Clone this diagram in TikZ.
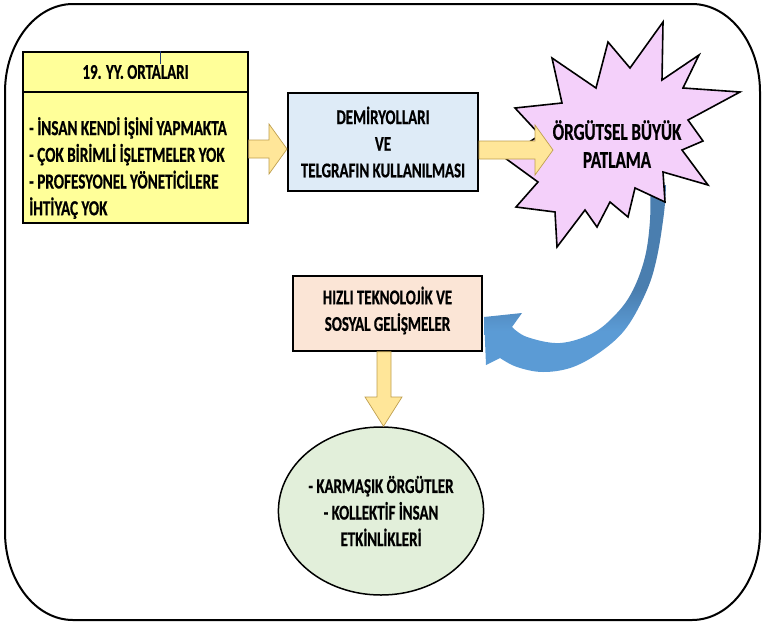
\documentclass[tikz,border=0pt]{standalone}
\usepackage{fontspec}
\setmainfont{Carlito}[FakeStretch=0.71, FakeBold=0.6]
\usetikzlibrary{calc,shapes.geometric}

\definecolor{boxyellow}{HTML}{FFFF99}
\definecolor{boxblue}{HTML}{DEEBF7}
\definecolor{burst}{HTML}{F4D0FA}
\definecolor{boxpink}{HTML}{FBE5D6}
\definecolor{boxgreen}{HTML}{E2EFDA}
\definecolor{arrowfill}{HTML}{FFE699}
\definecolor{arrowline}{HTML}{BF9F4F}
\definecolor{blueL}{HTML}{5B9BD5}
\definecolor{blueD}{HTML}{4A7EAF}
\definecolor{stray}{HTML}{1F3A7A}

% light lower part, darker upper part of the curved arrow
\pgfdeclareverticalshading{bluegrad}{100bp}{color(0bp)=(blueL); color(36bp)=(blueL); color(47bp)=(blueD); color(100bp)=(blueD)}

\begin{document}
\begin{tikzpicture}[x=1pt,y=-1pt,
  box/.style={draw=black, line width=1.5pt, rectangle, inner sep=0pt},
  lbl/.style={font=\bfseries\fontsize{21}{26.6}\selectfont, align=center, inner sep=0pt, text=black},
  blockarrow/.style={fill=arrowfill, draw=arrowline, line width=0.7pt, line join=miter},
]
\useasboundingbox (0,0) rectangle (762,624);

% outer frame with elliptical corners
\draw[line width=2pt] (73,4) -- (692,4)
  .. controls (729.5,4) and (760,43.4) .. (760,92) -- (760,532)
  .. controls (760,580.6) and (729.5,620) .. (692,620) -- (73,620)
  .. controls (35.5,620) and (5,580.6) .. (5,532) -- (5,92)
  .. controls (5,43.4) and (35.5,4) .. (73,4) -- cycle;

% first box
\node[box, fill=boxyellow, minimum width=225pt, minimum height=171pt] (yb) at (135.5,137.5) {};
\draw[line width=1.2pt] (yb.west |- 0,92) -- (yb.east |- 0,92);
\node[lbl] (ybt) at (135.5,72) {19. YY. ORTALARI};
\draw[stray, line width=0.7pt] (yb.north -| 160,0) -- (160,64);
\node[lbl, align=left, anchor=west, font=\bfseries\fontsize{21.4}{26.7}\selectfont] (ybl) at (29,168)
  {- İNSAN KENDİ İŞİNİ YAPMAKTA\\- ÇOK BİRİMLİ İŞLETMELER YOK\\- PROFESYONEL YÖNETİCİLERE\\İHTİYAÇ YOK};

% second box
\node[box, lbl, fill=boxblue, line width=2pt, minimum width=190pt, minimum height=98pt] (bb) at (383,142)
  {DEMİRYOLLARI\\VE\\TELGRAFIN KULLANILMASI};

% curved arrow from the burst back to the third box
\shade[shading=bluegrad] (484,317) -- (522,313) -- (512,327)
  -- plot[smooth, tension=0.6] coordinates {(512,327) (527,337) (560,343) (593,333) (617,313) (633,290) (645,257) (650,220) (650,185)}
  -- (666,185)
  -- plot[smooth, tension=0.6] coordinates {(666,185) (664,213) (657,257) (647,290) (627,327) (603,350) (573,367) (543,372) (517,367) (500,358)}
  -- (486,365) -- cycle;

% explosion shape
\draw[line width=1.6pt, fill=burst, line join=miter] (515,108) -- (562,103) -- (552,58) -- (596,88) -- (608,42)
  -- (630,68) -- (663,22) -- (662,80) -- (699,55) -- (683,88) -- (740,92) -- (688,120) -- (703,141)
  -- (682,150) -- (708,185) -- (663,172) -- (665,202) -- (635,188) -- (628,217) -- (610,202)
  -- (597,227) -- (585,210) -- (557,247) -- (555,212) -- (516,207) -- (538,182) -- (505,158)
  -- (540,135) -- cycle;
\node[lbl, font=\bfseries\fontsize{24}{28}\selectfont] (sb) at (617,144) {ÖRGÜTSEL BÜYÜK\\PATLAMA};

% block arrows along the top row
\coordinate (a2tip) at (553,150);
\draw[blockarrow] (yb.east |- 0,140) -- (269,140) -- (269,124) -- (bb.west |- 0,149)
  -- (269,174) -- (269,158) -- (yb.east |- 0,158) -- cycle;
\draw[blockarrow] (bb.east |- 0,141) -- (535,141) -- (535,125) -- (a2tip)
  -- (535,175) -- (535,159) -- (bb.east |- 0,159) -- cycle;

% third box
\node[box, fill=boxpink, minimum width=189pt, minimum height=75pt] (pb) at (387.5,313.5) {};
\node[lbl] (pbt) at (387.5,310.5) {HIZLI TEKNOLOJİK VE\\SOSYAL GELİŞMELER};

% result ellipse
\node[draw=black, line width=1.5pt, fill=boxgreen, ellipse, minimum width=190pt, minimum height=168pt, lbl] (el) at (381,511)
  {- KARMAŞIK ÖRGÜTLER\\- KOLLEKTİF İNSAN\\ETKİNLİKLERİ};

% downward block arrow
\draw[blockarrow] (pb.south -| 377,0) -- (377,397) -- (365,397) -- (el.north -| 383.5,0)
  -- (402,397) -- (391,397) -- (pb.south -| 391,0) -- cycle;
\end{tikzpicture}
\end{document}
